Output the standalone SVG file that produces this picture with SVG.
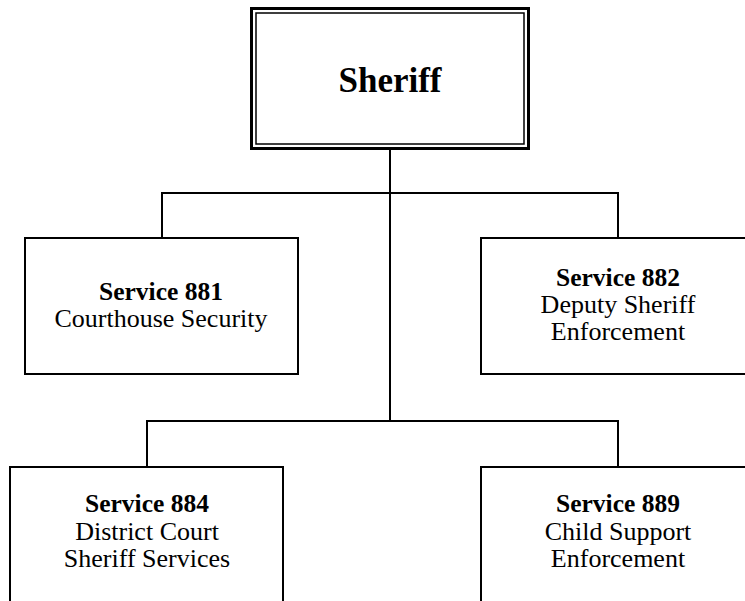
<svg xmlns="http://www.w3.org/2000/svg" width="745" height="601" viewBox="0 0 745 601">
<style>
.box{fill:#fff;stroke:#000;stroke-width:2}
.conn{fill:none;stroke:#000;stroke-width:2}
text{font-family:"Liberation Serif","Times New Roman",serif;fill:#000;text-anchor:middle}
.t{font-size:25.5px;font-weight:bold}
.s{font-size:26px}
</style>
<rect width="745" height="601" fill="#fff"/>
<g id="connectors">
<path class="conn" d="M390 147V421M162 238V193H618V238M147 467V421H618V467"/>
</g>
<g id="sheriff">
<rect x="251.5" y="8.5" width="277" height="140" fill="#fff" stroke="#000" stroke-width="3"/>
<rect x="256" y="13" width="268" height="131" fill="none" stroke="#000" stroke-width="1.5"/>
<text x="390" y="92" style="font-size:35px;font-weight:bold">Sheriff</text>
</g>
<g id="s881">
<rect class="box" x="25" y="238" width="273" height="136"/>
<text class="t" x="161" y="300">Service 881</text>
<text class="s" x="161" y="327">Courthouse Security</text>
</g>
<g id="s882">
<rect class="box" x="481" y="238" width="280" height="136"/>
<text class="t" x="618" y="286">Service 882</text>
<text class="s" x="618" y="313">Deputy Sheriff</text>
<text class="s" x="618" y="340">Enforcement</text>
</g>
<g id="s884">
<rect class="box" x="10" y="467" width="273" height="150"/>
<text class="t" x="147" y="512">Service 884</text>
<text class="s" x="147" y="540">District Court</text>
<text class="s" x="147" y="567">Sheriff Services</text>
</g>
<g id="s889">
<rect class="box" x="481" y="467" width="280" height="150"/>
<text class="t" x="618" y="512">Service 889</text>
<text class="s" x="618" y="540">Child Support</text>
<text class="s" x="618" y="567">Enforcement</text>
</g>
</svg>
